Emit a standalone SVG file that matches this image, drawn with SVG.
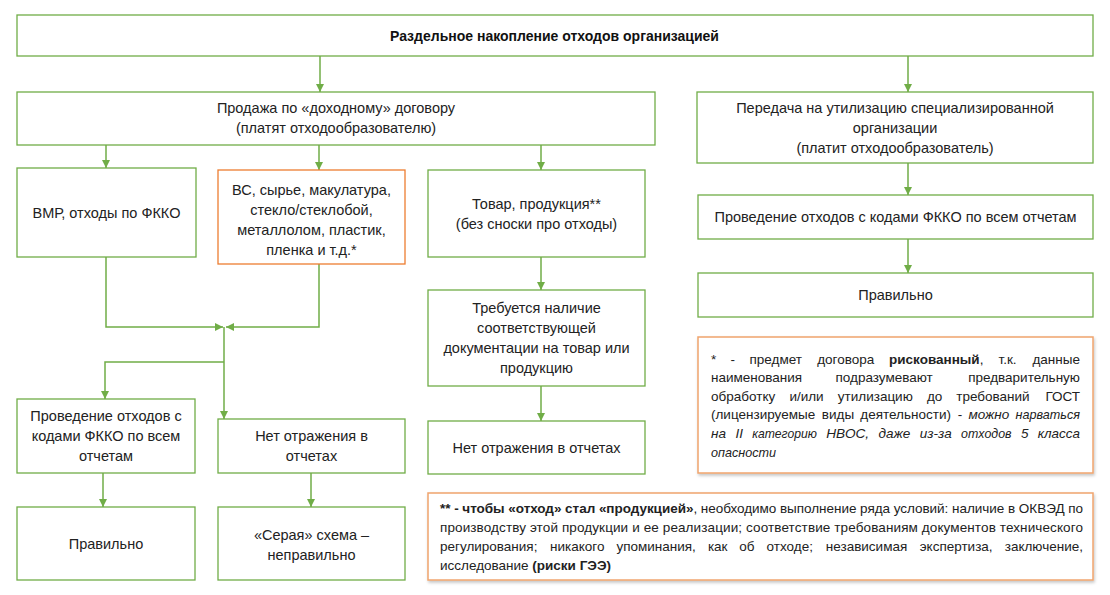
<svg xmlns="http://www.w3.org/2000/svg" width="1110" height="595" viewBox="0 0 1110 595">
<defs>
<style>
.bx{fill:#fff;stroke:#70AD47;stroke-width:1.3}
.ob{fill:#fff;stroke:#ED7D31;stroke-width:1.3}
.nb{fill:#fff;stroke:#F0A46E;stroke-width:1.5}
.t{font-family:"Liberation Sans",Arial,sans-serif;font-size:14.5px;fill:#222;text-anchor:middle}
.tb{font-family:"Liberation Sans",Arial,sans-serif;font-size:14px;font-weight:bold;fill:#111;text-anchor:middle}
.n{font-family:"Liberation Sans",Arial,sans-serif;font-size:13.5px;fill:#222}
.e{text-anchor:end}
.b{font-weight:bold}
.i{font-style:italic}
.c{fill:none;stroke:#70AD47;stroke-width:1.5}
.ca{fill:none;stroke:#70AD47;stroke-width:1.5;marker-end:url(#ah)}
</style>
<marker id="ah" markerUnits="userSpaceOnUse" markerWidth="9" markerHeight="9" refX="8" refY="4" orient="auto">
<path d="M0,0 L8,4 L0,8 z" fill="#70AD47"/>
</marker>
<filter id="sh" x="-5%" y="-5%" width="110%" height="115%">
<feDropShadow dx="1" dy="2" stdDeviation="1.5" flood-color="#000" flood-opacity="0.22"/>
</filter>
</defs>
<rect width="1110" height="595" fill="#fff"/>

<g id="connectors">
<path class="ca" d="M320,56 V92"/>
<path class="ca" d="M908,56 V92"/>
<path class="ca" d="M106,145 V168"/>
<path class="ca" d="M319,145 V170"/>
<path class="ca" d="M541,145 V170"/>
<path class="ca" d="M541,257 V290"/>
<path class="ca" d="M541,386 V421"/>
<path class="ca" d="M106,257 V327 H223"/>
<path class="ca" d="M319,264 V327 H226"/>
<path class="ca" d="M224,327 V419"/>
<path class="ca" d="M224,362 H105 V399"/>
<path class="ca" d="M103,473 V507"/>
<path class="ca" d="M311,473 V507"/>
<path class="ca" d="M908,163 V195"/>
<path class="ca" d="M908,239 V273"/>
</g>

<g id="title">
<rect class="bx" x="17" y="15" width="1076" height="41"/>
<text class="tb" x="554.5" y="40.5">Раздельное накопление отходов организацией</text>
</g>

<g id="sale">
<rect class="bx" x="17" y="92" width="638" height="53"/>
<text class="t" x="336" y="112.5">Продажа по «доходному» договору</text>
<text class="t" x="336" y="132.5">(платят отходообразователю)</text>
</g>

<g id="transfer">
<rect class="bx" x="697" y="92" width="396" height="71"/>
<text class="t" x="895" y="112.5">Передача на утилизацию специализированной</text>
<text class="t" x="895" y="132.5">организации</text>
<text class="t" x="895" y="152.5">(платит отходообразователь)</text>
</g>

<g id="vmr">
<rect class="bx" x="17" y="168" width="179" height="89"/>
<text class="t" x="106.5" y="218">ВМР, отходы по ФККО</text>
</g>

<g id="vs">
<rect class="ob" x="218" y="170" width="187" height="94"/>
<text class="t" x="311.5" y="194.5">ВС, сырье, макулатура,</text>
<text class="t" x="311.5" y="214.5">стекло/стеклобой,</text>
<text class="t" x="311.5" y="234.5">металлолом, пластик,</text>
<text class="t" x="311.5" y="254.5">пленка и т.д.*</text>
</g>

<g id="goods">
<rect class="bx" x="428" y="170" width="217" height="87"/>
<text class="t" x="536.5" y="208.5">Товар, продукция**</text>
<text class="t" x="536.5" y="228.5">(без сноски про отходы)</text>
</g>

<g id="docs">
<rect class="bx" x="428" y="290" width="217" height="96"/>
<text class="t" x="536.5" y="313">Требуется наличие</text>
<text class="t" x="536.5" y="333">соответствующей</text>
<text class="t" x="536.5" y="353">документации на товар или</text>
<text class="t" x="536.5" y="373">продукцию</text>
</g>

<g id="noreport-mid">
<rect class="bx" x="428" y="421" width="217" height="53"/>
<text class="t" x="536.5" y="452.5">Нет отражения в отчетах</text>
</g>

<g id="fkko-left">
<rect class="bx" x="17" y="399" width="178" height="74"/>
<text class="t" x="106" y="421">Проведение отходов с</text>
<text class="t" x="106" y="441">кодами ФККО по всем</text>
<text class="t" x="106" y="461">отчетам</text>
</g>

<g id="noreport-left">
<rect class="bx" x="218" y="419" width="187" height="54"/>
<text class="t" x="311.5" y="441">Нет отражения в</text>
<text class="t" x="311.5" y="461">отчетах</text>
</g>

<g id="correct-left">
<rect class="bx" x="17" y="507" width="178" height="73"/>
<text class="t" x="106" y="549">Правильно</text>
</g>

<g id="grey">
<rect class="bx" x="218" y="507" width="187" height="73"/>
<text class="t" x="311.5" y="539.5">«Серая» схема –</text>
<text class="t" x="311.5" y="559.5">неправильно</text>
</g>

<g id="fkko-right">
<rect class="bx" x="698" y="195" width="395" height="44"/>
<text class="t" x="895.5" y="222">Проведение отходов с кодами ФККО по всем отчетам</text>
</g>

<g id="correct-right">
<rect class="bx" x="698" y="273" width="395" height="44"/>
<text class="t" x="895.5" y="300">Правильно</text>
</g>

<g id="note1">
<rect class="nb" x="698" y="337" width="395" height="136" filter="url(#sh)"/>
<text class="n" x="711" y="363.5">*</text>
<text class="n" x="730.6" y="363.5">-</text>
<text class="n" x="749.5" y="363.5">предмет</text>
<text class="n" x="817.2" y="363.5">договора</text>
<text class="n" x="889" y="363.5"><tspan class="b">рискованный</tspan>,</text>
<text class="n" x="998.5" y="363.5">т.к.</text>
<text class="n e" x="1080" y="363.5">данные</text>

<text class="n" x="711" y="382">наименования</text>
<text class="n" x="835.5" y="382">подразумевают</text>
<text class="n e" x="1080" y="382">предварительную</text>

<text class="n" x="711" y="400.7">обработку</text>
<text class="n" x="789.4" y="400.7">и/или</text>
<text class="n" x="837.8" y="400.7">утилизацию</text>
<text class="n" x="926.9" y="400.7">до</text>
<text class="n" x="956.3" y="400.7">требований</text>
<text class="n e" x="1080" y="400.7">ГОСТ</text>

<text class="n" x="711" y="419.3">(лицензируемые</text>
<text class="n" x="821.8" y="419.3">виды</text>
<text class="n" x="860.3" y="419.3">деятельности)</text>
<text class="n" x="957.8" y="419.3">-</text>
<text class="n i" x="968.5" y="419.3" textLength="40.8" lengthAdjust="spacingAndGlyphs">можно</text>
<text class="n i" x="1015.6" y="419.3" textLength="64.4" lengthAdjust="spacingAndGlyphs">нарваться</text>

<text class="n i" x="711" y="438" textLength="15" lengthAdjust="spacingAndGlyphs">на</text>
<text class="n i" x="735.4" y="438" textLength="7.5" lengthAdjust="spacingAndGlyphs">II</text>
<text class="n i" x="752.2" y="438" textLength="64.7" lengthAdjust="spacingAndGlyphs">категорию</text>
<text class="n i" x="826.3" y="438" textLength="42.8" lengthAdjust="spacingAndGlyphs">НВОС,</text>
<text class="n i" x="878.5" y="438" textLength="31.9" lengthAdjust="spacingAndGlyphs">даже</text>
<text class="n i" x="919.8" y="438" textLength="31.9" lengthAdjust="spacingAndGlyphs">из-за</text>
<text class="n i" x="961.1" y="438" textLength="50.5" lengthAdjust="spacingAndGlyphs">отходов</text>
<text class="n i" x="1020.9" y="438" textLength="7.5" lengthAdjust="spacingAndGlyphs">5</text>
<text class="n i" x="1037.7" y="438" textLength="42.3" lengthAdjust="spacingAndGlyphs">класса</text>

<text class="n i" x="711" y="456.5" textLength="65" lengthAdjust="spacingAndGlyphs">опасности</text>
</g>

<g id="note2">
<rect class="nb" x="428" y="493" width="665" height="87" filter="url(#sh)"/>
<text class="n" x="440" y="513" textLength="643" lengthAdjust="spacing"><tspan class="b">** - чтобы «отход» стал «продукцией»</tspan>, необходимо выполнение ряда условий: наличие в ОКВЭД по</text>
<text class="n" x="440" y="532" textLength="643" lengthAdjust="spacing">производству этой продукции и ее реализации; соответствие требованиям документов технического</text>
<text class="n" x="440" y="551">регулирования;</text>
<text class="n" x="550" y="551">никакого</text>
<text class="n" x="616.4" y="551">упоминания,</text>
<text class="n" x="707.9" y="551">как</text>
<text class="n" x="739.3" y="551">об</text>
<text class="n" x="766.6" y="551">отходе;</text>
<text class="n" x="825.8" y="551">независимая</text>
<text class="n" x="919.7" y="551">экспертиза,</text>
<text class="n e" x="1083" y="551">заключение,</text>
<text class="n" x="440" y="570">исследование <tspan class="b">(риски ГЭЭ)</tspan></text>
</g>
</svg>
